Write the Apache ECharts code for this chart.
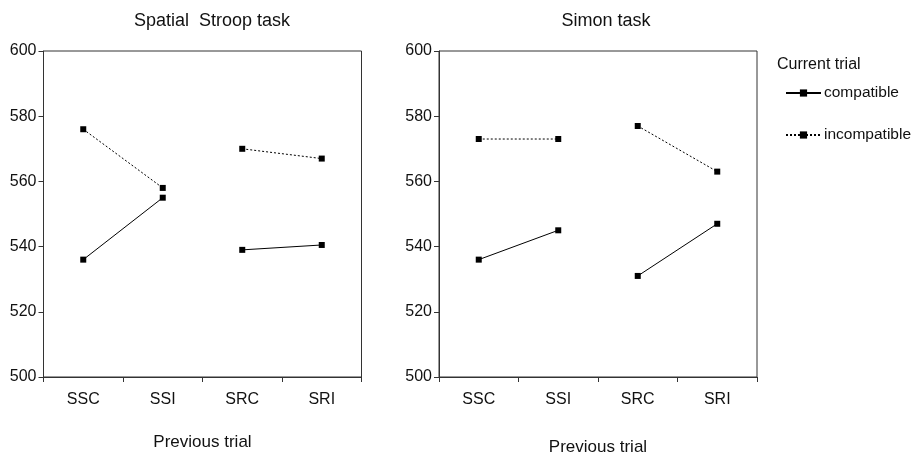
<!DOCTYPE html>
<html>
<head>
<meta charset="utf-8">
<script src="https://cdn.jsdelivr.net/npm/echarts@6/dist/echarts.min.js"></script>
<style>
html,body{margin:0;padding:0;background:#fff;}
#c{width:919px;height:456px;}
</style>
</head>
<body>
<div id="c"></div>
<script>
const categories = ['SSC', 'SSI', 'SRC', 'SRI'];
const yTicks = [500, 520, 540, 560, 580, 600];
const stroopCompatible = [536, 555, 539, 540.5];
const stroopIncompatible = [576, 558, 570, 567];
const simonCompatible = [536, 545, 531, 547];
const simonIncompatible = [573, 573, 577, 563];
const titles = ['Spatial  Stroop task', 'Simon task'];
const seriesNames = ['compatible', 'incompatible'];

const FONT = 'Liberation Sans, Arial, sans-serif';
const INK = '#111';

function pair(arr, part) {
  return arr.map((v, i) => (Math.floor(i / 2) === part ? v : '-'));
}

function makeSeries(values, name, gridIdx, dotted) {
  return [0, 1].map(part => ({
    type: 'line',
    name: name,
    xAxisIndex: gridIdx,
    yAxisIndex: gridIdx,
    data: pair(values, part),
    symbol: 'rect',
    symbolSize: 6,
    connectNulls: false,
    itemStyle: { color: '#000' },
    lineStyle: { color: '#000', width: 1, type: dotted ? [2, 2] : 'solid' },
    emphasis: { disabled: true },
    animation: false
  }));
}

const grids = [
  { left: 43.5, top: 51, width: 318, height: 326 },
  { left: 439, top: 51, width: 318, height: 326 }
];

const xNameGaps = [57, 62];

const chart = echarts.init(document.getElementById('c'), null, { renderer: 'canvas' });
chart.setOption({
  backgroundColor: '#fff',
  animation: false,
  title: [
    { text: titles[0], left: 207, top: 7, textAlign: 'center',
      textStyle: { fontFamily: FONT, fontSize: 18, fontWeight: 'normal', color: INK } },
    { text: titles[1], left: 601, top: 7, textAlign: 'center',
      textStyle: { fontFamily: FONT, fontSize: 18, fontWeight: 'normal', color: INK } },
    { text: 'Current trial', left: 772, top: 52,
      textStyle: { fontFamily: FONT, fontSize: 16, fontWeight: 'normal', color: INK } }
  ],
  legend: {
    orient: 'vertical',
    left: 780,
    top: 80,
    itemWidth: 35,
    itemHeight: 9,
    itemGap: 26,
    data: seriesNames,
    selectedMode: false,
    textStyle: { fontFamily: FONT, fontSize: 15.5, color: INK, padding: [0, 0, 0, -2] }
  },
  grid: grids.map(g => Object.assign({
    show: true, borderColor: '#333', borderWidth: 1, backgroundColor: 'transparent',
    containLabel: false, outerBoundsMode: 'none'
  }, g)),
  xAxis: [0, 1].map(i => ({
    type: 'category',
    gridIndex: i,
    data: categories,
    boundaryGap: true,
    name: 'Previous trial',
    nameLocation: 'middle',
    nameGap: xNameGaps[i],
    nameTextStyle: { fontFamily: FONT, fontSize: 17, color: INK },
    axisLine: { lineStyle: { color: '#333', width: 1 } },
    axisTick: { show: true, length: 5, alignWithLabel: false, lineStyle: { color: '#333' } },
    axisLabel: { fontFamily: FONT, fontSize: 16, color: INK, margin: 15 },
    splitLine: { show: false }
  })),
  yAxis: [0, 1].map(i => ({
    type: 'value',
    gridIndex: i,
    min: yTicks[0],
    max: yTicks[yTicks.length - 1],
    interval: yTicks[1] - yTicks[0],
    axisLine: { show: true, lineStyle: { color: '#333', width: 1 } },
    axisTick: { show: true, length: 5, lineStyle: { color: '#333' } },
    axisLabel: { fontFamily: FONT, fontSize: 16, color: INK, margin: 7 },
    splitLine: { show: false }
  })),
  series: [].concat(
    makeSeries(stroopCompatible, seriesNames[0], 0, false),
    makeSeries(stroopIncompatible, seriesNames[1], 0, true),
    makeSeries(simonCompatible, seriesNames[0], 1, false),
    makeSeries(simonIncompatible, seriesNames[1], 1, true)
  )
});
</script>
</body>
</html>
